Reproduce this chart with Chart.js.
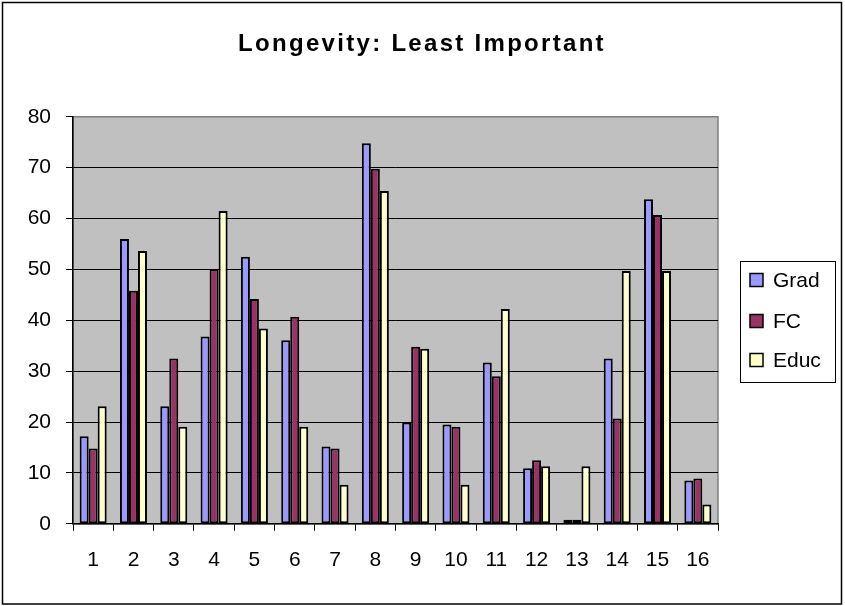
<!DOCTYPE html>
<html>
<head>
<meta charset="utf-8">
<script src="https://cdn.jsdelivr.net/npm/chart.js@4/dist/chart.umd.min.js"></script>
<style>
  html, body { margin: 0; padding: 0; background: #fff; }
  #wrap { width: 845px; height: 606px; }
</style>
</head>
<body>
<div id="wrap"><canvas id="c" width="845" height="606"></canvas></div>
<script>
const categories = ['1','2','3','4','5','6','7','8','9','10','11','12','13','14','15','16'];
const gradValues = [17.2, 56.0, 23.1, 36.8, 52.5, 36.1, 15.2, 74.8, 19.9, 19.5, 31.7, 10.9, 0.8, 32.5, 63.8, 8.5];
const fcValues   = [14.8, 45.8, 32.5, 50.1, 44.2, 40.7, 14.8, 69.8, 34.8, 19.1, 29.0, 12.5, 0.8, 20.7, 60.7, 8.9];
const educValues = [23.1, 53.6, 19.1, 61.5, 38.4, 19.1, 7.7, 65.4, 34.4, 7.7, 42.2, 11.3, 11.3, 49.7, 49.7, 3.8];
const seriesNames = ['Grad', 'FC', 'Educ'];
const seriesColors = ['#9999FF', '#993366', '#FFFFCC'];
const yTicks = { min: 0, max: 80, step: 10 };
const titleText = 'Longevity: Least Important';

const FONT = '"Liberation Sans", Arial, sans-serif';

const bgPlugin = {
  id: 'bgPlugin',
  beforeDraw(chart) {
    const { ctx, chartArea: a } = chart;
    ctx.save();
    ctx.fillStyle = '#fff';
    ctx.fillRect(0, 0, chart.width, chart.height);
    ctx.strokeStyle = '#000';
    ctx.lineWidth = 1.5;
    ctx.strokeRect(2.5, 2.5, 839, 601.5);
    ctx.fillStyle = '#C0C0C0';
    ctx.fillRect(a.left, a.top, a.right - a.left, a.bottom - a.top);
    ctx.strokeStyle = '#808080';
    ctx.lineWidth = 1.5;
    ctx.strokeRect(a.left, a.top, a.right - a.left, a.bottom - a.top);
    ctx.restore();
  }
};

const legendPlugin = {
  id: 'boxLegend',
  afterDraw(chart) {
    const ctx = chart.ctx;
    ctx.save();
    ctx.strokeStyle = '#000';
    ctx.lineWidth = 1;
    ctx.strokeRect(740.5, 261.5, 95, 121);
    const ys = [280, 321, 360];
    ctx.font = '21px ' + FONT;
    ctx.textBaseline = 'middle';
    ctx.textAlign = 'left';
    chart.data.datasets.forEach((ds, i) => {
      ctx.fillStyle = ds.backgroundColor;
      ctx.fillRect(750, ys[i] - 6.5, 13, 13);
      ctx.strokeStyle = '#000';
      ctx.lineWidth = 1.5;
      ctx.strokeRect(750, ys[i] - 6.5, 13, 13);
      ctx.fillStyle = '#000';
      ctx.fillText(ds.label, 773, ys[i] + 1);
    });
    ctx.restore();
  }
};

const datasets = [gradValues, fcValues, educValues].map((vals, i) => ({
  label: seriesNames[i],
  data: vals,
  backgroundColor: seriesColors[i],
  borderColor: '#000',
  borderWidth: 2,
  borderSkipped: false,
  barPercentage: 1,
  categoryPercentage: 0.67
}));

const chart = new Chart(document.getElementById('c'), {
  type: 'bar',
  data: { labels: categories, datasets },
  options: {
    responsive: false,
    animation: false,
    layout: { padding: { left: 0, right: 127, top: 0, bottom: 16 } },
    plugins: {
      legend: { display: false },
      tooltip: { enabled: false },
      title: {
        display: true,
        text: titleText,
        color: '#000',
        font: { family: FONT, size: 24, weight: 'bold' },
        padding: { top: 30, bottom: 58 }
      }
    },
    scales: {
      x: {
        offset: true,
        grid: { offset: true, drawOnChartArea: false, tickLength: 7, tickColor: '#000', color: '#000' },
        border: { color: '#000', width: 1.5 },
        ticks: { color: '#000', font: { family: FONT, size: 21 }, padding: 17, maxRotation: 0 }
      },
      y: {
        min: yTicks.min,
        max: yTicks.max,
        afterFit(scale) { scale.width = 73; },
        grid: {
          color: (c) => (c.tick && c.tick.value === yTicks.max) ? '#808080' : '#000',
          tickColor: '#000',
          tickLength: 7,
          lineWidth: 1
        },
        border: { color: '#000', width: 1.5 },
        ticks: { stepSize: yTicks.step, color: '#000', font: { family: FONT, size: 21 }, padding: 15 }
      }
    }
  },
  plugins: [bgPlugin, legendPlugin]
});

// widen the title letters and centre it on the whole canvas like the reference
const tb = chart.titleBlock;
const origDraw = tb.draw;
tb.draw = function () {
  const ctx = this.ctx || chart.ctx;
  ctx.save();
  ctx.letterSpacing = '2.3px';
  const boxCenter = (this.left + this.right) / 2;
  ctx.translate(422 - boxCenter, 0);
  origDraw.apply(this, arguments);
  ctx.restore();
};
chart.draw();
</script>
</body>
</html>
